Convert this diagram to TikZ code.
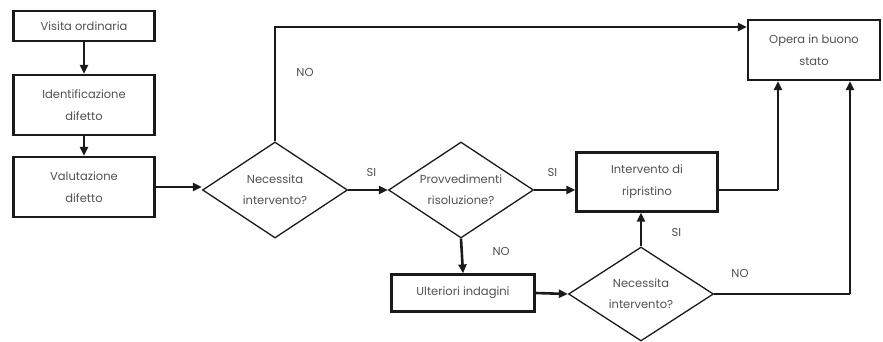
\documentclass[tikz,border=0pt]{standalone}
\usepackage{fontspec}
\setmainfont{Poppins}
\usepackage{tikz}
\usetikzlibrary{arrows.meta,positioning,shapes.geometric,calc}
\definecolor{FCInk}{HTML}{1A1A1A}
\definecolor{FCText}{HTML}{505050}

\begin{document}
\begin{tikzpicture}[x=1pt,y=-1pt,
  box/.style={draw=FCInk,line width=2.2pt,minimum width=141pt,inner sep=2pt,align=center,text=FCText,font=\fontsize{11.5}{22}\selectfont},
  rombo/.style={draw=FCInk,line width=1.3pt,diamond,inner sep=0pt,minimum width=145pt,minimum height=96pt,aspect=1.5,align=center,text=FCText,font=\fontsize{11.5}{21}\selectfont},
  freccia/.style={draw=FCInk,line width=2.6pt,-{Triangle[length=9pt,width=8pt]}},
  linea/.style={draw=FCInk,line width=2.6pt},
  etichetta/.style={text=FCText,font=\fontsize{11.5}{12}\selectfont}
]
\useasboundingbox (0,0) rectangle (883,342);
\node[box,minimum height=30pt] (visita) at (84,26) {Visita ordinaria};
\node[box,minimum height=60pt] (ident) at (84,105) {Identificazione\\difetto};
\node[box,minimum height=60pt] (valut) at (84,187) {Valutazione\\difetto};
\node[rombo] (nec1) at (275,190) {Necessita\\intervento?};
\node[rombo] (prov) at (461,190) {Provvedimenti\\risoluzione?};
\node[box,minimum height=59pt] (interv) at (647,182) {Intervento di\\ripristino};
\node[box,minimum width=143pt,minimum height=37pt] (ulter) at (463,293) {Ulteriori indagini};
\node[rombo,minimum height=94pt] (nec2) at (641,294) {Necessita\\intervento?};
\node[box,minimum width=132pt,minimum height=60pt] (opera) at (814,50) {Opera in buono\\stato};
\draw[freccia] (visita) -- (ident);
\draw[freccia] (ident) -- (valut);
\draw[freccia] (valut.east) -- (valut.east -| nec1.west);
\draw[freccia] (nec1.north) |- ([yshift=23pt]opera.west);
\node[etichetta] (no1) at (305,72) {NO};
\draw[freccia] (nec1) -- (prov);
\node[etichetta,above left=10pt and 8pt of prov.west] (si1) {SI};
\draw[freccia] (prov.east) -- (prov.east -| interv.west);
\node[etichetta,above right=10pt and 10pt of prov.east] (si2) {SI};
\draw[freccia] (prov.south) -- (ulter.north);
\node[etichetta,right=28pt of prov.south,yshift=-13pt] (no2) {NO};
\draw[freccia] (ulter.east) -- (nec2.west);
\draw[freccia] (nec2.north) -- (nec2.north |- interv.south);
\node[etichetta,right=27pt of nec2.north,yshift=14pt] (si3) {SI};
\coordinate (nodo1) at (778,190);
\coordinate (nodo2) at (850,294);
\draw[linea] (interv.east |- nodo1) -- (nodo1);
\draw[freccia] (nodo1) -- (nodo1 |- opera.south);
\draw[linea] (nec2.east) -- (nodo2);
\draw[freccia] (nodo2) -- (nodo2 |- opera.south);
\node[etichetta] (no3) at (740,273) {NO};
\end{tikzpicture}
\end{document}
